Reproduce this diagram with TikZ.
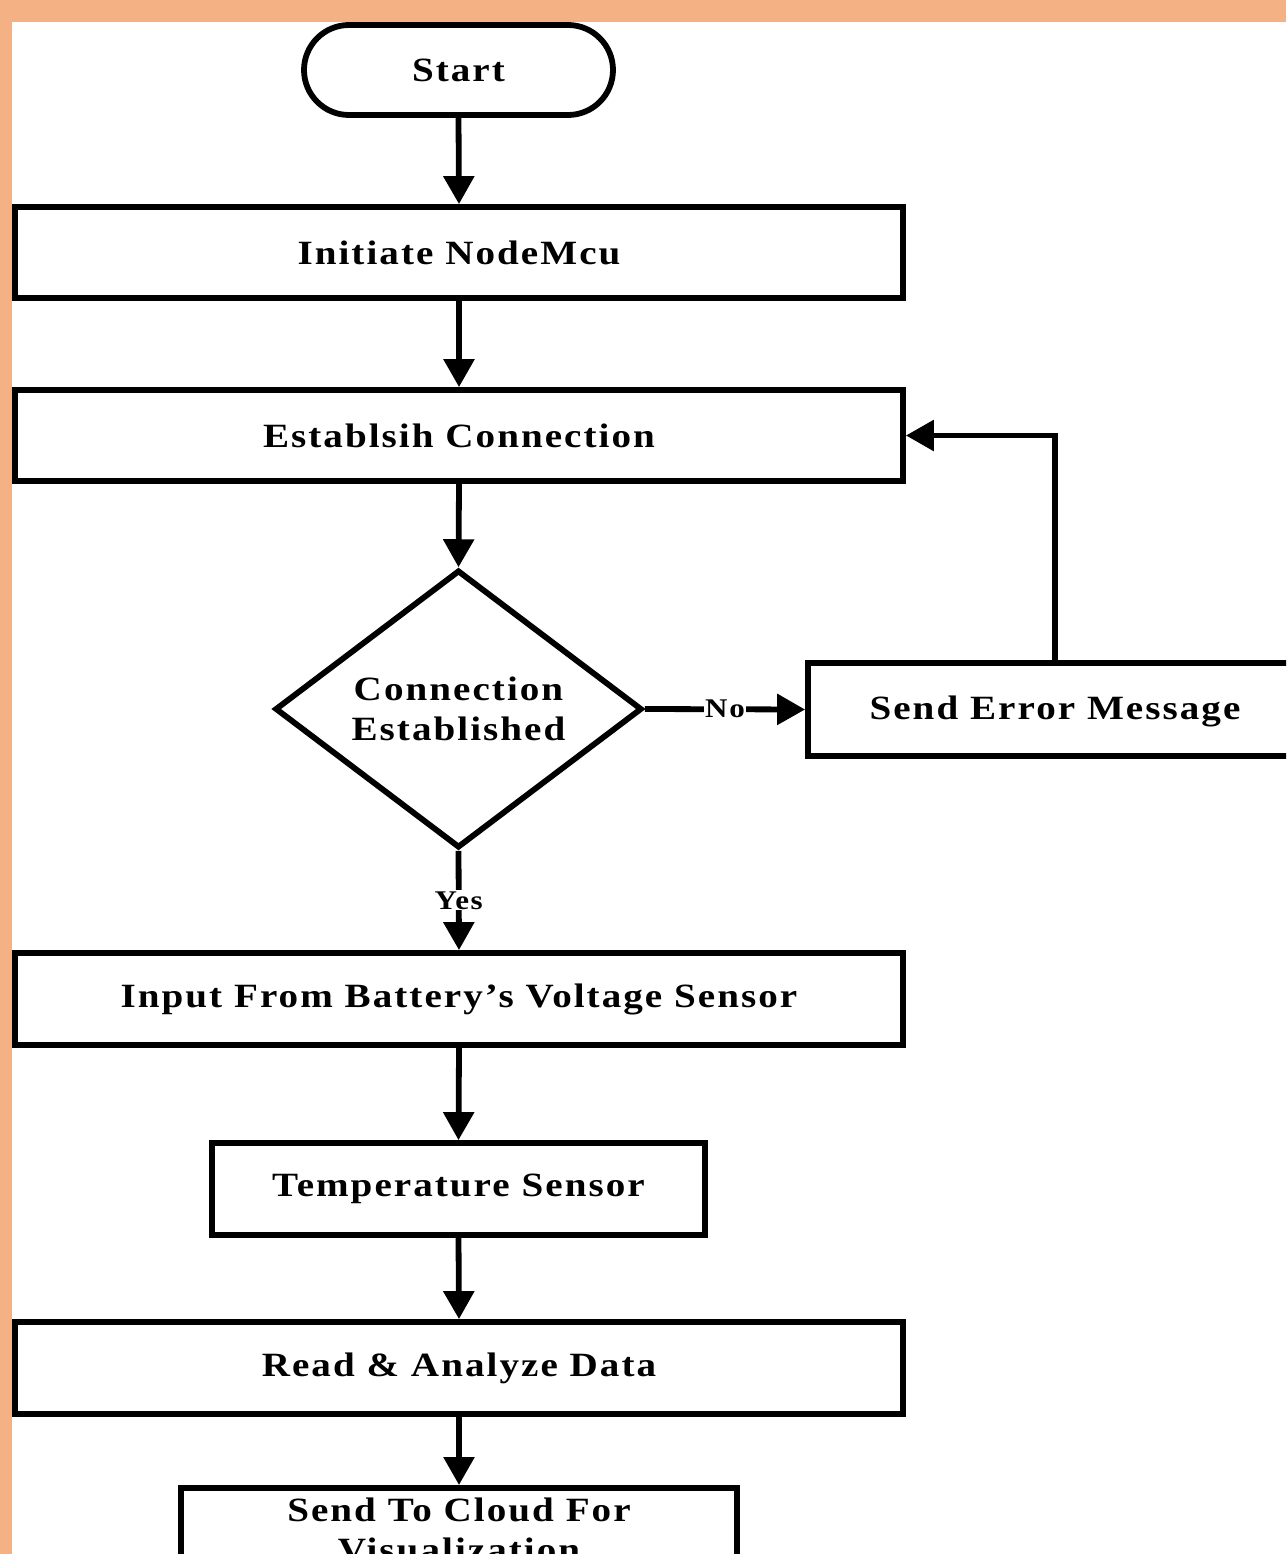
\documentclass[tikz,border=0pt]{standalone}
\usepackage{fontspec}
\setmainfont{Liberation Serif}[LetterSpace=6,FakeStretch=1.15]
\usetikzlibrary{arrows.meta,shapes.geometric}
\definecolor{bgorange}{HTML}{F4B183}
\tikzset{
  x=1pt,y=-1pt,
  every node/.style={font=\fontsize{34}{40}\selectfont\bfseries},
  box/.style={draw,line width=5.8pt,minimum height=91pt,inner sep=0pt,anchor=center},
  term/.style={draw,line width=5.8pt,rounded corners=45pt,minimum width=309pt,minimum height=90pt},
  dec/.style={draw,line width=5.8pt,diamond,minimum width=367pt,minimum height=272pt,inner sep=0pt,align=center},
  flow/.style={line width=5.8pt,-{Triangle[length=28pt,width=30pt]}},
  lbl/.style={fill=white,inner sep=1pt,font=\fontsize{27}{30}\selectfont\bfseries}
}
\begin{document}
\begin{tikzpicture}
\useasboundingbox (0,0) rectangle (1286,1554);
\fill[bgorange] (0,0) rectangle (1286,1554);
\fill[white] (12,22) rectangle (1286,1554);
\begin{scope}
\clip (0,0) rectangle (1286,1554);
\node[term] (start) at (458.5,70) {Start};
\node[box,minimum width=888pt] (init) at (459,252.5) {Initiate NodeMcu};
\node[box,minimum width=888pt] (estab) at (459,435.5) {Establsih Connection};
\node[dec] (dec) at (458.5,709) {Connection\\Established};
\node[box,minimum width=560pt,minimum height=93pt] (err) at (1088,709.5) {};
\node (errtxt) at (1055,711) {Send Error Message};
\node[box,minimum width=888pt,minimum height=92pt] (input) at (459,999) {Input From Battery’s Voltage Sensor};
\node[box,minimum width=493pt,minimum height=92pt] (temp) at (458.5,1189) {Temperature Sensor};
\node[box,minimum width=888pt,minimum height=92pt] (read) at (459,1368) {Read \& Analyze Data};
\node[box,minimum width=556pt,minimum height=150pt,anchor=north] (cloud) at (459,1485) {};
\node[align=center,anchor=north] (cloudtxt) at (459,1494) {Send To Cloud For\\Visualization};
\coordinate (errtop) at (1055,663);
\end{scope}
\draw[flow] (start.south) -- (init.north);
\draw[flow] (init.south) -- (estab.north);
\draw[flow] (estab.south) -- (dec.north);
\draw[flow] (dec.east) -- node[lbl,pos=0.5] (no) {No} (err.west);
\draw[flow] (errtop) |- (estab.east);
\draw[flow] (dec.south) -- node[lbl,pos=0.5] (yes) {Yes} (input.north);
\draw[flow] (input.south) -- (temp.north);
\draw[flow] (temp.south) -- (read.north);
\draw[flow] (read.south) -- (cloud.north);
\end{tikzpicture}
\end{document}
